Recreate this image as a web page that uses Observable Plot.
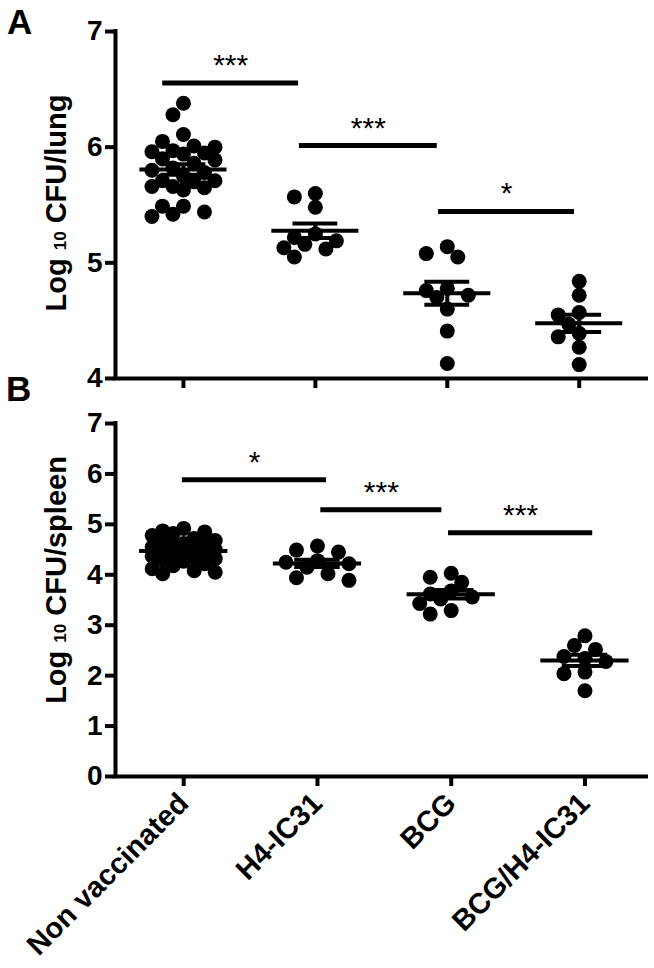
<!DOCTYPE html>
<html>
<head>
<meta charset="utf-8">
<script src="https://cdn.jsdelivr.net/npm/d3@7"></script>
<script src="https://cdn.jsdelivr.net/npm/@observablehq/plot@0.6"></script>
<style>
  body { margin: 0; background: #fff; }
  #wrap { position: relative; width: 654px; height: 968px; overflow: hidden;
          font-family: "Liberation Sans", Arial, sans-serif; color: #000; background: #fff; }
  .panel { position: absolute; left: 0; }
  .letter { position: absolute; font-size: 35px; font-weight: bold; line-height: 1; }
  .ytitle { position: absolute; font-size: 29px; font-weight: bold; line-height: 1; white-space: nowrap;
            transform: translate(-50%, -50%) rotate(-90deg); }
  .ytitle span { font-size: 17px; }
</style>
</head>
<body>
<div id="wrap">
  <div id="panelA" class="panel" style="top:0"></div>
  <div id="panelB" class="panel" style="top:395px"></div>
  <div class="letter" style="left:7px;top:4px">A</div>
  <div class="letter" style="left:6px;top:371px">B</div>
  <div class="ytitle" style="left:56px;top:203px">Log <span>10</span> CFU/lung</div>
  <div class="ytitle" style="left:56px;top:580px">Log <span>10</span> CFU/spleen</div>
</div>
<script>
// ---------- data (log10 CFU) ----------
const groups = ["Non vaccinated", "H4-IC31", "BCG", "BCG/H4-IC31"];

const lungNonVacc = [6.38, 6.28, 6.11, 6.05, 6.01, 6.00, 5.97, 5.96, 5.95, 5.94, 5.90, 5.89, 5.86, 5.82, 5.80,
                     5.78, 5.75, 5.71, 5.71, 5.70, 5.66, 5.66, 5.65, 5.63, 5.49, 5.49, 5.44, 5.42, 5.40];
const lungH4 = [5.60, 5.57, 5.48, 5.25, 5.22, 5.19, 5.16, 5.13, 5.12, 5.05];
const lungBCG = [5.14, 5.08, 5.05, 4.78, 4.76, 4.72, 4.70, 4.60, 4.41, 4.13];
const lungBCGH4 = [4.84, 4.72, 4.57, 4.55, 4.47, 4.39, 4.36, 4.27, 4.12];

const spleenNonVacc = [4.92, 4.87, 4.85, 4.82, 4.78, 4.72, 4.68, 4.64, 4.62, 4.60, 4.58, 4.55, 4.52, 4.50, 4.48,
                       4.45, 4.42, 4.40, 4.37, 4.35, 4.32, 4.30, 4.27, 4.22, 4.18, 4.12, 4.08, 4.05, 4.02];
const spleenH4 = [4.57, 4.49, 4.45, 4.28, 4.25, 4.22, 4.15, 4.02, 3.94, 3.89];
const spleenBCG = [4.03, 3.95, 3.85, 3.68, 3.62, 3.56, 3.52, 3.43, 3.29, 3.22];
const spleenBCGH4 = [2.79, 2.60, 2.52, 2.38, 2.34, 2.28, 2.07, 2.04, 1.70];

// significance brackets (x in group-index units, y in log10 CFU)
const bracketFromLung = [-0.157, 0.879, 1.934];
const bracketToLung = [0.873, 1.924, 2.964];
const bracketYLung = [6.555, 6.014, 5.444];
const bracketLabelLung = ["***", "***", "*"];

const bracketFromSpleen = [-0.01, 1.025, 1.98];
const bracketToSpleen = [1.068, 1.93, 3.058];
const bracketYSpleen = [5.883, 5.289, 4.832];
const bracketLabelSpleen = ["*", "***", "***"];

const lungTicks = [4, 5, 6, 7];
const spleenTicks = [0, 1, 2, 3, 4, 5, 6, 7];

// ---------- layout helpers ----------
const W = 654, ML = 115, MR = 8;
const FONT = "Liberation Sans, Arial, sans-serif";

// deterministic scatter-dot spreading (no randomness)
function swarm(values, unitPx, stepPx) {
  const s = 10.5, dmin = 13.5, kmax = 3;
  const ks = [0];
  for (let k = 1; k <= kmax; k++) ks.push(-k, k);
  const placed = [];
  return values.map(v => {
    const py = v * unitPx;
    let best = 0, bestD = -1;
    for (const k of ks) {
      const px = k * s;
      let md = Infinity;
      for (const p of placed) md = Math.min(md, Math.hypot(p[0] - px, p[1] - py));
      if (md >= dmin) { best = px; break; }
      if (md > bestD) { bestD = md; best = px; }
    }
    placed.push([best, py]);
    return best / stepPx;
  });
}

function panel({series, yDomain, xDomain, height, mt, mb, ticks, bFrom, bTo, bY, bLab, labels}) {
  const unitPx = (height - mt - mb) / (yDomain[1] - yDomain[0]);
  const stepPx = (W - ML - MR) / (xDomain[1] - xDomain[0]);
  const dots = [], stats = [];
  series.forEach((vals, i) => {
    const off = swarm(vals, unitPx, stepPx);
    vals.forEach((v, j) => dots.push({x: i + off[j], v}));
    stats.push({i, mean: d3.mean(vals), sem: d3.deviation(vals) / Math.sqrt(vals.length)});
  });
  const brackets = bFrom.map((f, k) => ({x1: f, x2: bTo[k], y: bY[k], label: bLab[k]}));
  const marks = [
    Plot.axisY(ticks, {tickSize: 10, tickPadding: 3, strokeWidth: 4, fontSize: 28, fontWeight: "bold",
                       tickFormat: d => String(d), label: null}),
    Plot.axisX([0, 1, 2, 3], {tickSize: 10, strokeWidth: 4, tickFormat: () => "", fill: "none", label: null}),
    Plot.ruleX([xDomain[0]], {strokeWidth: 4, strokeLinecap: "square"}),
    Plot.ruleY([yDomain[0]], {strokeWidth: 4, strokeLinecap: "square"}),
    Plot.dot(dots, {x: "x", y: "v", r: 7.5, fill: "black", stroke: "none"}),
    Plot.ruleY(stats, {x1: d => d.i - 0.33, x2: d => d.i + 0.33, y: "mean", strokeWidth: 4}),
    Plot.ruleY(stats, {x1: d => d.i - 0.17, x2: d => d.i + 0.17, y: d => d.mean + d.sem, strokeWidth: 4}),
    Plot.ruleY(stats, {x1: d => d.i - 0.17, x2: d => d.i + 0.17, y: d => d.mean - d.sem, strokeWidth: 4}),
    Plot.ruleX(stats, {x: "i", y1: d => d.mean - d.sem, y2: d => d.mean + d.sem, strokeWidth: 4}),
    Plot.ruleY(brackets, {x1: "x1", x2: "x2", y: "y", strokeWidth: 5}),
    Plot.text(brackets, {x: d => (d.x1 + d.x2) / 2, y: "y", text: "label", fontSize: 30,
                         lineAnchor: "bottom", dy: -8})
  ];
  if (labels) {
    marks.push(Plot.text(labels, {x: (d, i) => i, frameAnchor: "bottom", text: d => d, rotate: -45,
      textAnchor: "end", lineAnchor: "middle", fontSize: 29, fontWeight: "bold", dx: 0, dy: 22}));
  }
  return Plot.plot({
    width: W, height,
    marginLeft: ML, marginRight: MR, marginTop: mt, marginBottom: mb,
    x: {type: "linear", domain: xDomain},
    y: {type: "linear", domain: yDomain},
    style: {fontFamily: FONT, color: "black", background: "transparent", overflow: "visible"},
    marks
  });
}

document.getElementById("panelA").appendChild(panel({
  series: [lungNonVacc, lungH4, lungBCG, lungBCGH4],
  yDomain: [4, 7], xDomain: [-0.515, 3.51],
  height: 395, mt: 31, mb: 17, ticks: lungTicks,
  bFrom: bracketFromLung, bTo: bracketToLung, bY: bracketYLung, bLab: bracketLabelLung,
  labels: null
}));

document.getElementById("panelB").appendChild(panel({
  series: [spleenNonVacc, spleenH4, spleenBCG, spleenBCGH4],
  yDomain: [0, 7], xDomain: [-0.51, 3.46],
  height: 573, mt: 28, mb: 192, ticks: spleenTicks,
  bFrom: bracketFromSpleen, bTo: bracketToSpleen, bY: bracketYSpleen, bLab: bracketLabelSpleen,
  labels: groups
}));
</script>
</body>
</html>
